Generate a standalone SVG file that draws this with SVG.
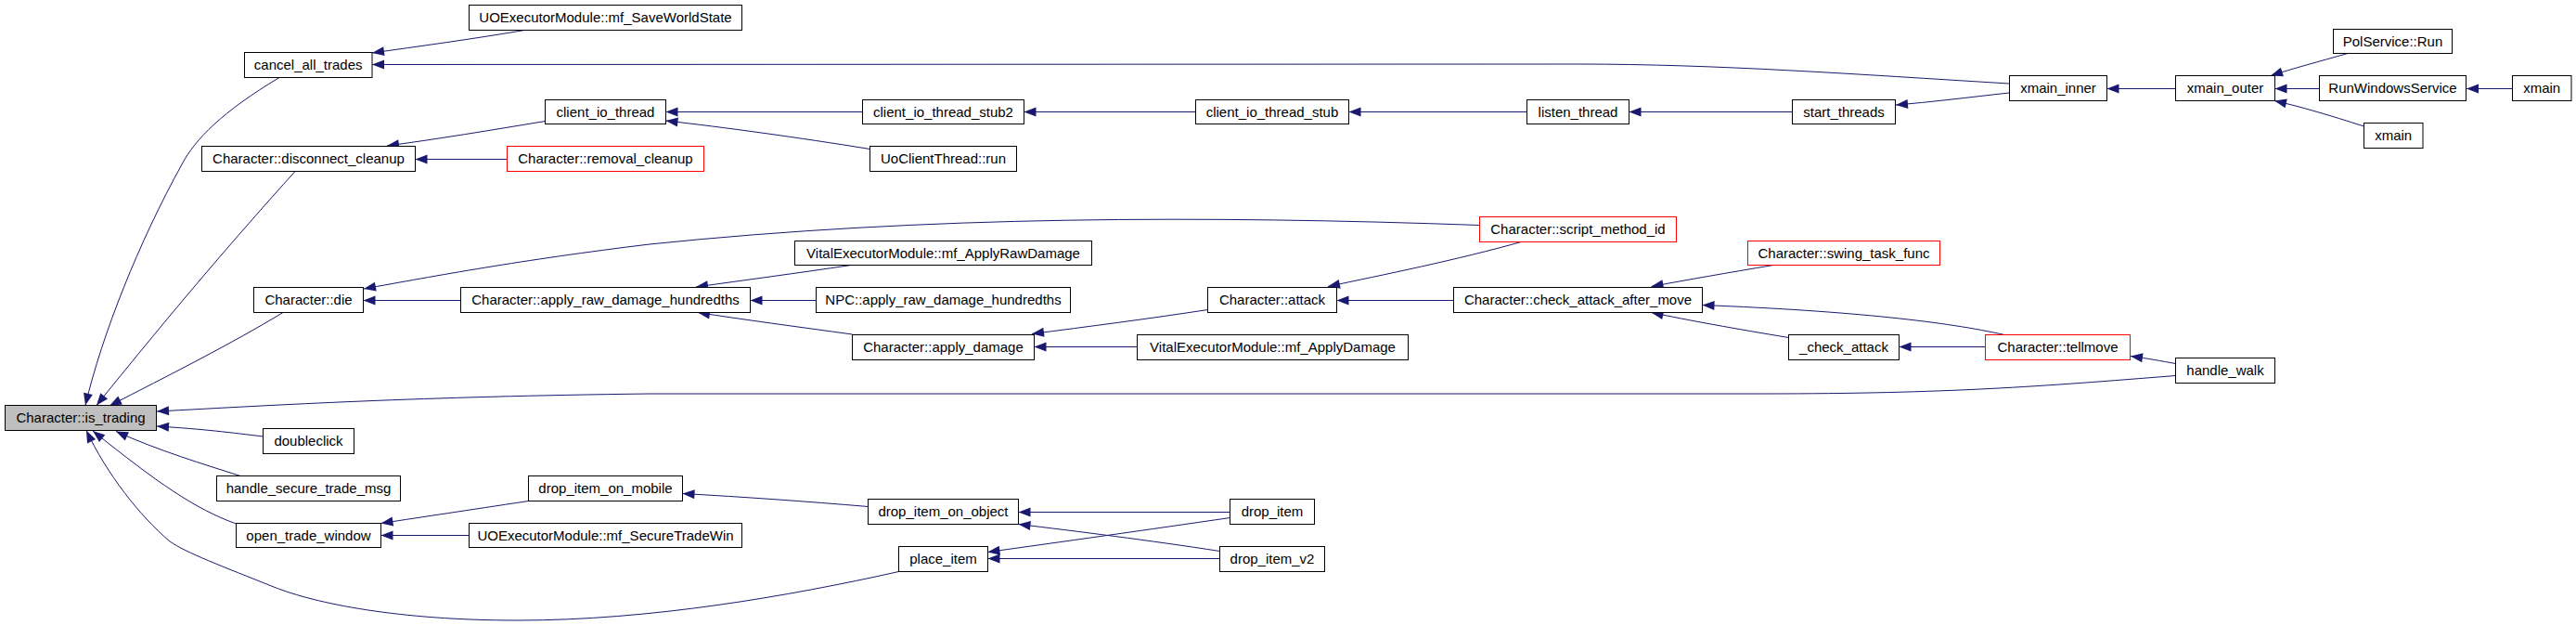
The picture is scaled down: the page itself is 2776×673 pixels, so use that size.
<svg xmlns="http://www.w3.org/2000/svg" width="2776" height="673" viewBox="0 0 2776 673">
<style>
.n rect{fill:#ffffff;stroke:#000000;stroke-width:1}
.n.red rect{stroke:#ff0000}
.n.root rect{fill:#bfbfbf}
.n text{font-family:"Liberation Sans",Arial,sans-serif;font-size:15px;fill:#000000;text-anchor:middle}
.e path{fill:none;stroke:#191970;stroke-width:1;marker-end:url(#ah)}
</style>
<defs>
<marker id="ah" markerWidth="14" markerHeight="11" refX="13" refY="5" orient="auto" markerUnits="userSpaceOnUse" overflow="visible">
<path d="M0,0 L13,5 L0,10 z" fill="#191970"/>
</marker>
</defs>
<rect x="0" y="0" width="2776" height="673" fill="#ffffff"/>
<g id="edges" class="e">
<path d="M565,32.5 C510,42 450,50 401,57"/>
<path d="M2165,90 C2000,80 1850,69 1700,69 L401,69.5"/>
<path d="M2165,100 C2120,105 2080,110 2043,113"/>
<path d="M2344.5,95.5 L2270.5,95.5"/>
<path d="M2530,57.5 C2500,66 2470,74 2447,81.5"/>
<path d="M2499.5,95.5 L2451.5,95.5"/>
<path d="M2707.5,95.5 L2658,95.5"/>
<path d="M2547.5,136 C2510,124 2480,115 2451,108.5"/>
<path d="M587.5,130.5 C530,140 470,150 417,157"/>
<path d="M546.5,171.5 L447.5,171.5"/>
<path d="M929.5,120.5 L717.5,120.5"/>
<path d="M937.5,160.5 C860,148 780,137 717.5,130"/>
<path d="M1288.5,120.5 L1103.5,120.5"/>
<path d="M1645.5,120.5 L1453.5,120.5"/>
<path d="M1931.5,120.5 L1755.5,120.5"/>
<path d="M1594.5,242.5 C1300,232 1000,232 700,263 C560,280 470,297 392,311"/>
<path d="M496.5,323.5 L391.5,323.5"/>
<path d="M1641,260 C1570,280 1490,296 1431,308.5"/>
<path d="M917,285.5 C860,294 800,302 750,309"/>
<path d="M879.5,323.5 L808.5,323.5"/>
<path d="M918.5,360 C860,352 800,344 752,336.5"/>
<path d="M1301.5,333.5 C1240,343 1170,352 1112,359.5"/>
<path d="M1225.5,373.5 L1114.5,373.5"/>
<path d="M1566.5,323.5 L1440.5,323.5"/>
<path d="M1911,285.5 C1860,294 1820,301 1779.5,308.5"/>
<path d="M2160,360.5 C2100,347 2000,335 1834.5,328.5"/>
<path d="M1927.5,363.5 C1870,354 1820,345 1779.5,336.5"/>
<path d="M2139.5,373.5 L2046.5,373.5"/>
<path d="M2344.5,391.5 C2330,389 2315,386 2296,383.5"/>
<path d="M2344.5,404.5 C2200,416 2100,424 1900,424 L700,424 C450,427 300,436 169,443"/>
<path d="M301,83.5 C240,120 210,150 196,177 C150,260 110,360 92,436.5"/>
<path d="M318,184.5 C250,260 190,330 104,436.5"/>
<path d="M305,336.5 C250,370 180,405 118,437"/>
<path d="M283.5,470 C250,466 220,462 169,459"/>
<path d="M259,512.5 C220,500 170,485 125,464.5"/>
<path d="M254.5,564 C210,548 170,520 100,464"/>
<path d="M968.5,615.5 C850,642 700,668 558,668 C430,668 340,650 295,632 C240,610 200,595 183,583 C150,555 115,510 93,463.5"/>
<path d="M569.5,539.5 C500,550 460,556 410.5,563.5"/>
<path d="M505.5,576.5 L410.5,576.5"/>
<path d="M935.5,545.5 C870,540 800,535 735.5,531.5"/>
<path d="M1325.5,551.5 L1097.5,551.5"/>
<path d="M1314.5,593.5 C1240,582 1160,572 1097.5,564.5"/>
<path d="M1325.5,557.5 C1240,570 1140,584 1064.5,594.5"/>
<path d="M1314.5,601.5 L1064.5,601.5"/>
</g>
<g id="n_is_trading" class="n root"><rect x="5.5" y="436.5" width="163" height="27"/><text x="87" y="455">Character::is_trading</text></g>
<g id="n_cancel_all_trades" class="n"><rect x="263.5" y="56.5" width="137.5" height="27"/><text x="332.2" y="75">cancel_all_trades</text></g>
<g id="n_mf_SaveWorldState" class="n"><rect x="505.5" y="5.5" width="294" height="27"/><text x="652.5" y="24">UOExecutorModule::mf_SaveWorldState</text></g>
<g id="n_disconnect_cleanup" class="n"><rect x="217.5" y="157.5" width="230" height="27"/><text x="332.5" y="176">Character::disconnect_cleanup</text></g>
<g id="n_client_io_thread" class="n"><rect x="587.5" y="107.5" width="130" height="26"/><text x="652.5" y="125.5">client_io_thread</text></g>
<g id="n_removal_cleanup" class="n red"><rect x="546.5" y="157.5" width="212" height="27"/><text x="652.5" y="176">Character::removal_cleanup</text></g>
<g id="n_die" class="n"><rect x="273.5" y="309.5" width="118" height="27"/><text x="332.5" y="328">Character::die</text></g>
<g id="n_apply_raw_damage_hundredths" class="n"><rect x="496.5" y="309.5" width="312" height="27"/><text x="652.5" y="328">Character::apply_raw_damage_hundredths</text></g>
<g id="n_doubleclick" class="n"><rect x="283.5" y="461.5" width="98" height="27"/><text x="332.5" y="480">doubleclick</text></g>
<g id="n_handle_secure_trade_msg" class="n"><rect x="233.5" y="512.5" width="198" height="27"/><text x="332.5" y="531">handle_secure_trade_msg</text></g>
<g id="n_open_trade_window" class="n"><rect x="254.5" y="563.5" width="156" height="26"/><text x="332.5" y="581.5">open_trade_window</text></g>
<g id="n_drop_item_on_mobile" class="n"><rect x="569.5" y="512.5" width="166" height="27"/><text x="652.5" y="531">drop_item_on_mobile</text></g>
<g id="n_mf_SecureTradeWin" class="n"><rect x="505.5" y="563.5" width="294" height="26"/><text x="652.5" y="581.5">UOExecutorModule::mf_SecureTradeWin</text></g>
<g id="n_client_io_thread_stub2" class="n"><rect x="929.5" y="107.5" width="174" height="26"/><text x="1016.5" y="125.5">client_io_thread_stub2</text></g>
<g id="n_client_io_thread_stub" class="n"><rect x="1288.5" y="107.5" width="165" height="26"/><text x="1371" y="125.5">client_io_thread_stub</text></g>
<g id="n_UoClientThread_run" class="n"><rect x="937.5" y="157.5" width="158" height="27"/><text x="1016.5" y="176">UoClientThread::run</text></g>
<g id="n_mf_ApplyRawDamage" class="n"><rect x="856.5" y="259.5" width="320" height="26"/><text x="1016.5" y="277.5">VitalExecutorModule::mf_ApplyRawDamage</text></g>
<g id="n_NPC_apply_raw_damage_hundredths" class="n"><rect x="879.5" y="309.5" width="274" height="27"/><text x="1016.5" y="328">NPC::apply_raw_damage_hundredths</text></g>
<g id="n_attack" class="n"><rect x="1301.5" y="309.5" width="139" height="27"/><text x="1371" y="328">Character::attack</text></g>
<g id="n_apply_damage" class="n"><rect x="918.5" y="360.5" width="196" height="27"/><text x="1016.5" y="379">Character::apply_damage</text></g>
<g id="n_mf_ApplyDamage" class="n"><rect x="1225.5" y="360.5" width="292" height="27"/><text x="1371.5" y="379">VitalExecutorModule::mf_ApplyDamage</text></g>
<g id="n_drop_item_on_object" class="n"><rect x="935.5" y="537.5" width="162" height="27"/><text x="1016.5" y="556">drop_item_on_object</text></g>
<g id="n_place_item" class="n"><rect x="968.5" y="588.5" width="96" height="27"/><text x="1016.5" y="607">place_item</text></g>
<g id="n_drop_item" class="n"><rect x="1325.5" y="537.5" width="91" height="27"/><text x="1371" y="556">drop_item</text></g>
<g id="n_drop_item_v2" class="n"><rect x="1314.5" y="588.5" width="113" height="27"/><text x="1371" y="607">drop_item_v2</text></g>
<g id="n_listen_thread" class="n"><rect x="1645.5" y="107.5" width="110" height="26"/><text x="1700.5" y="125.5">listen_thread</text></g>
<g id="n_start_threads" class="n"><rect x="1931.5" y="107.5" width="111" height="26"/><text x="1987" y="125.5">start_threads</text></g>
<g id="n_script_method_id" class="n red"><rect x="1594.5" y="233.5" width="212" height="27"/><text x="1700.5" y="252">Character::script_method_id</text></g>
<g id="n_swing_task_func" class="n red"><rect x="1883.5" y="259.5" width="207" height="26"/><text x="1987" y="277.5">Character::swing_task_func</text></g>
<g id="n_check_attack_after_move" class="n"><rect x="1566.5" y="309.5" width="268" height="27"/><text x="1700.5" y="328">Character::check_attack_after_move</text></g>
<g id="n__check_attack" class="n"><rect x="1927.5" y="360.5" width="119" height="27"/><text x="1987" y="379">_check_attack</text></g>
<g id="n_xmain_inner" class="n"><rect x="2165.5" y="81.5" width="105" height="27"/><text x="2218" y="100">xmain_inner</text></g>
<g id="n_xmain_outer" class="n"><rect x="2344.5" y="81.5" width="107" height="27"/><text x="2398" y="100">xmain_outer</text></g>
<g id="n_PolService_Run" class="n"><rect x="2514.5" y="31.5" width="128" height="26"/><text x="2578.5" y="49.5">PolService::Run</text></g>
<g id="n_RunWindowsService" class="n"><rect x="2499.5" y="81.5" width="158" height="27"/><text x="2578.5" y="100">RunWindowsService</text></g>
<g id="n_xmain_a" class="n"><rect x="2707.5" y="81.5" width="63.5" height="27"/><text x="2739.2" y="100">xmain</text></g>
<g id="n_xmain_b" class="n"><rect x="2547.5" y="132.5" width="63.5" height="27"/><text x="2579.2" y="151">xmain</text></g>
<g id="n_tellmove" class="n red"><rect x="2139.5" y="360.5" width="156" height="27"/><text x="2217.5" y="379">Character::tellmove</text></g>
<g id="n_handle_walk" class="n"><rect x="2344.5" y="385.5" width="107" height="27"/><text x="2398" y="404">handle_walk</text></g>
</svg>
